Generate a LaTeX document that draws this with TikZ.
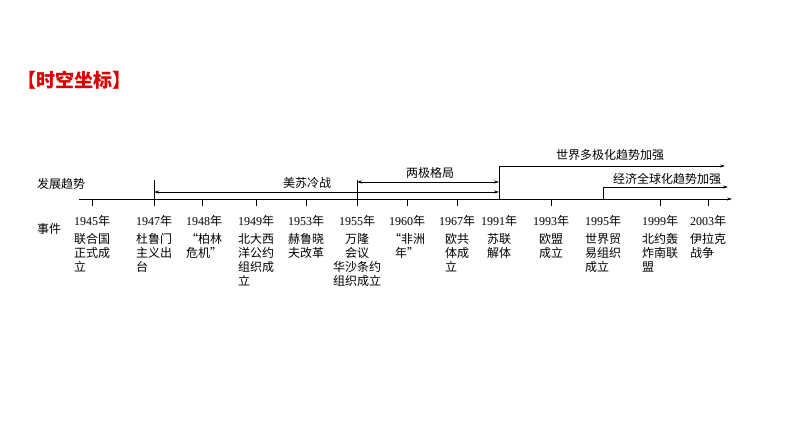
\documentclass[tikz,border=0pt]{standalone}
\usepackage{fontspec}
\usetikzlibrary{arrows.meta}
\setmainfont{Liberation Serif}
\newfontfamily\cjk{Noto Sans CJK SC}
\newfontfamily\cjkm{Noto Sans CJK SC Medium}
\begin{document}
\begin{tikzpicture}[x=1pt,y=-1pt,
  ln/.style={line width=0.7pt},
  arr/.style={ln,-{Stealth[length=5pt,width=3pt]}},
  yr/.style={font=\fontsize{12}{12}\selectfont, inner sep=0pt},
  ev/.style={font=\cjk\fontsize{12}{14}\selectfont, inner sep=0pt, align=left, anchor=north},
  lab/.style={font=\cjk\fontsize{12}{12}\selectfont, inner sep=0pt}]
\useasboundingbox (0,0) rectangle (794,447);
\node[font=\cjk\bfseries\fontsize{19}{19}\selectfont, text=red!85!black, anchor=west, inner sep=0pt] (title) at (17,80) {【时空坐标】};
\node[lab, anchor=west] (fz) at (37,184) {发展趋势};
\node[lab, anchor=west] (sj) at (37,229) {事件};
\coordinate (a0) at (79,199);
\coordinate (a1) at (732,199);
\draw[arr] (a0) -- (a1);
\foreach \x/\n in {92/t45,202/t48,256/t49,306/t53,407/t60,457/t67,551/t93,660/t99,708/t03}{
  \coordinate (\n) at (\x,199);
  \draw[ln] (\n) -- ++(0,7);
}
\foreach \x/\n in {154/t47,357/t55,499/t91,603/t95}{ \coordinate (\n) at (\x,199); }
\draw[ln] (t47) ++(0,7) -- ++(0,-26);
\draw[ln] (t55) ++(0,7) -- ++(0,-26);
\draw[ln] (t91) -- ++(0,-33);
\draw[ln] (t95) -- ++(0,-12);
\coordinate (c1) at (154,192); \coordinate (c2) at (499,192);
\draw[ln,{Stealth[length=5pt,width=3pt]}-{Stealth[length=5pt,width=3pt]}] (c1) -- (c2);
\coordinate (b1) at (357,182); \coordinate (b2) at (499,182);
\draw[ln,{Stealth[length=5pt,width=3pt]}-{Stealth[length=5pt,width=3pt]}] (b1) -- (b2);
\coordinate (m1) at (499,166); \coordinate (m2) at (725,166);
\draw[arr] (m1) -- (m2);
\coordinate (g1) at (603,187); \coordinate (g2) at (728,187);
\draw[arr] (g1) -- (g2);
\node[lab] (lc) at (307,183) {美苏冷战};
\node[lab] (lb) at (430,173) {两极格局};
\node[lab] (lm) at (610,155) {世界多极化趋势加强};
\node[lab] (lg) at (667,179) {经济全球化趋势加强};
\foreach \x/\y/\e [count=\i] in {
 92/1945/{联合国\\正式成\\立},
 154/1947/{杜鲁门\\主义出\\台},
 204/1948/{“柏林\\危机”},
 256/1949/{北大西\\洋公约\\组织成\\立},
 306/1953/{赫鲁晓\\夫改革},
 357/1955/{\hspace*{1em}万隆\\\hspace*{1em}会议\\华沙条约\\组织成立},
 407/1960/{“非洲\\\hspace*{0.5em}年”},
 457/1967/{欧共\\体成\\立},
 499/1991/{苏联\\解体},
 551/1993/{欧盟\\成立},
 603/1995/{世界贸\\易组织\\成立},
 660/1999/{北约轰\\炸南联\\盟},
 708/2003/{伊拉克\\战争}}{
  \node[yr] (y\i) at (\x,221) {\y{\cjk 年}};
  \node[ev] (e\i) at (\x,233) {\e};
}
\end{tikzpicture}
\end{document}
